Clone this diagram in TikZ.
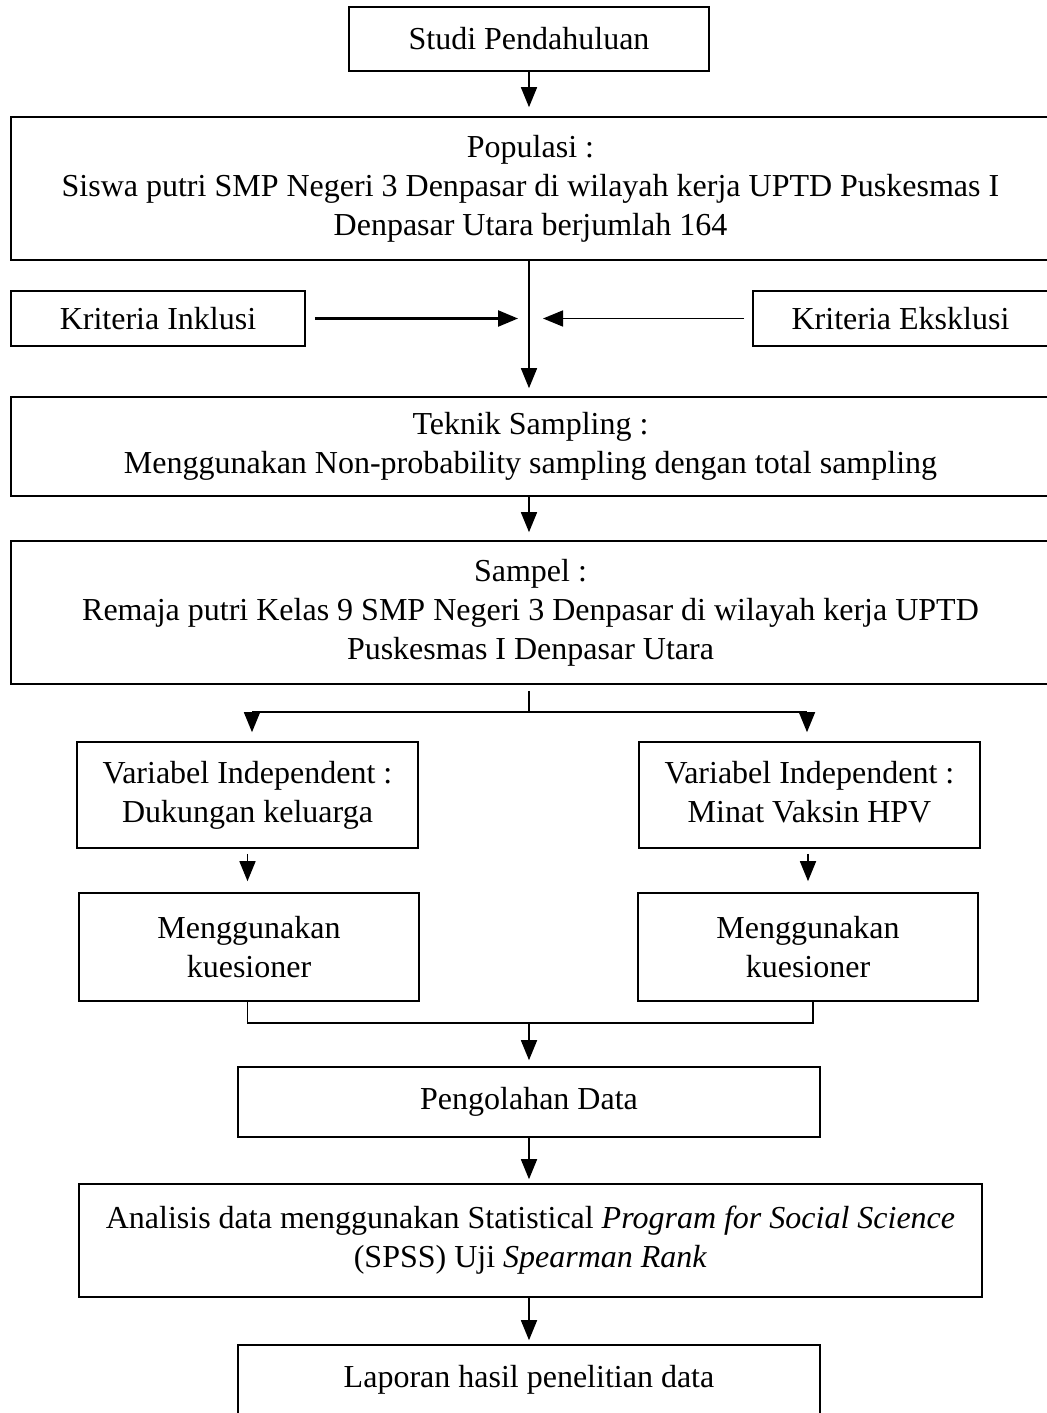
\documentclass[tikz,border=0pt]{standalone}
\usepackage{fontspec}
\setmainfont{Liberation Serif}
\usetikzlibrary{arrows.meta}
\begin{document}
\begin{tikzpicture}[x=0.5pt,y=-0.5pt,
  box/.style={draw, line width=0.8pt, align=center, inner sep=0pt, font=\fontsize{16}{19.5}\selectfont},
  arr/.style={line width=0.8pt, -{Triangle[length=10pt,width=8pt]}},
  ln/.style={line width=0.8pt}]
\useasboundingbox (0,0) rectangle (1046,1413);
\node[box, minimum width=180pt, minimum height=32pt] (studi) at (529,39) {Studi Pendahuluan};
\node[box, minimum width=519.5pt, minimum height=71.5pt] (pop) at (530.5,188.5)
  {Populasi :\\Siswa putri SMP Negeri 3 Denpasar di wilayah kerja UPTD Puskesmas I\\Denpasar Utara berjumlah 164};
\node[box, minimum width=147pt, minimum height=27.5pt] (inklusi) at (158,318.5) {Kriteria Inklusi};
\node[box, minimum width=147.5pt, minimum height=27.5pt] (eksklusi) at (900.5,318.5) {Kriteria Eksklusi};
\node[box, minimum width=519.5pt, minimum height=49.5pt] (teknik) at (530.5,446.5)
  {Teknik Sampling :\\Menggunakan Non-probability sampling dengan total sampling};
\node[box, minimum width=519.5pt, minimum height=71.5pt] (sampel) at (530.5,612.5)
  {Sampel :\\Remaja putri Kelas 9 SMP Negeri 3 Denpasar di wilayah kerja UPTD\\Puskesmas I Denpasar Utara};
\node[box, minimum width=170.5pt, minimum height=53pt] (var1) at (247.5,795) {Variabel Independent :\\Dukungan keluarga};
\node[box, minimum width=170.5pt, minimum height=53pt] (var2) at (809.5,795) {Variabel Independent :\\Minat Vaksin HPV\vphantom{g}};
\node[box, minimum width=170pt, minimum height=54pt] (meng1) at (249,947) {Menggunakan\\kuesioner};
\node[box, minimum width=170pt, minimum height=54pt] (meng2) at (808,947) {Menggunakan\\kuesioner};
\node[box, minimum width=291pt, minimum height=35pt] (olah) at (529,1102) {Pengolahan Data};
\node[box, minimum width=451.5pt, minimum height=56.5pt] (analisis) at (530.5,1240.5)
  {Analisis data menggunakan Statistical \textit{Program for Social Science}\\(SPSS) Uji \textit{Spearman Rank}};
\node[box, minimum width=291pt, minimum height=35pt] (laporan) at (529,1380) {Laporan hasil penelitian data};

% connectors
\draw[arr, shorten >=4.5pt] (studi.south) -- (pop.north -| studi.south);
\draw[arr, shorten >=4pt] (pop.south -| studi.south) -- (teknik.north -| studi.south);
\coordinate (mid) at (studi.south |- inklusi.east);
\draw[arr, line width=1.2pt, shorten <=4.5pt, shorten >=5.5pt] (inklusi.east) -- (mid);
\draw[arr, shorten <=4pt, shorten >=7pt] (eksklusi.west) -- (mid);
\draw[arr, shorten >=4pt] (teknik.south -| studi.south) -- (sampel.north -| studi.south);

\coordinate (sp) at (529,712);
\coordinate (spL) at (252,712);
\coordinate (spR) at (807,712);
\draw[ln] ([yshift=-3pt]sampel.south -| sp) -- (sp);
\draw[line width=1.2pt] (spL) -- (spR);
\draw[arr, shorten >=4.5pt] (spL) -- (spL |- var1.north);
\draw[arr, shorten >=4.5pt] (spR) -- (spR |- var2.north);

\draw[arr, shorten <=2.5pt, shorten >=5.5pt] (var1.south) -- (meng1.north -| var1.south);
\draw[arr, shorten <=2.5pt, shorten >=5.5pt] (var2.south -| meng2.south) -- (meng2.north);

\coordinate (jn) at (529,1023);
\draw[ln] (meng1.south -| var1.south) -- (var1.south |- jn) -- ([xshift=2.5pt]meng2.south |- jn) -- ([xshift=2.5pt]meng2.south);
\draw[arr, shorten >=3pt] (jn) -- (olah.north);
\draw[arr, shorten >=2pt] (olah.south) -- (analisis.north -| olah.south);
\draw[arr, shorten >=2pt] (analisis.south -| laporan.north) -- (laporan.north);
\end{tikzpicture}
\end{document}
